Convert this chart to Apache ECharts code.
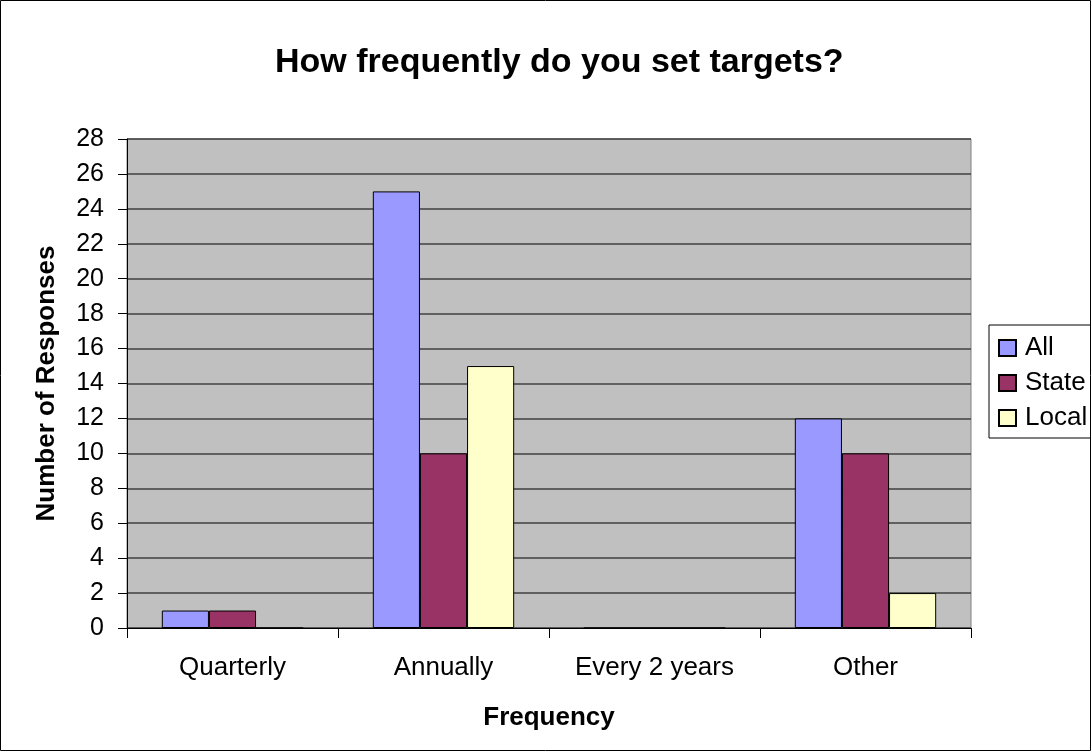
<!DOCTYPE html>
<html>
<head>
<meta charset="utf-8">
<script src="https://cdn.jsdelivr.net/npm/echarts@6/dist/echarts.min.js"></script>
<style>
  html, body { margin: 0; padding: 0; background: #fff; }
  #chart { width: 1091px; height: 751px; }
</style>
</head>
<body>
<div id="chart"></div>
<script>
const categories = ['Quarterly', 'Annually', 'Every 2 years', 'Other']
const allValues = [1, 25, 0, 12]
const stateValues = [1, 10, 0, 10]
const localValues = [0, 15, 0, 2]

const font = '"Liberation Sans", Arial, sans-serif'
const chart = echarts.init(document.getElementById('chart'))

const barStyle = (color) => ({
  color: color,
  borderColor: '#000',
  borderWidth: 1
})

const option = {
  animation: false,
  backgroundColor: '#fff',
  textStyle: { fontFamily: font },
  graphic: [{
    type: 'rect',
    shape: { x: 0.5, y: 0.5, width: 1090, height: 750 },
    style: { fill: 'none', stroke: '#000', lineWidth: 1 },
    silent: true,
    z: 100
  }],
  title: {
    text: 'How frequently do you set targets?',
    left: 270,
    top: 41,
    textStyle: { fontFamily: font, fontSize: 34, fontWeight: 'bold', color: '#000' }
  },
  legend: {
    orient: 'vertical',
    left: 989,
    top: 325,
    padding: [10, 40, 7, 9],
    itemGap: 9,
    itemWidth: 17,
    itemHeight: 16,
    icon: 'rect',
    borderColor: '#000',
    borderWidth: 1,
    textStyle: { fontFamily: font, fontSize: 26, color: '#000', padding: [0, 0, 0, 4] },
    data: ['All', 'State', 'Local']
  },
  grid: {
    left: 127,
    right: 120,
    top: 139,
    bottom: 123,
    show: true,
    backgroundColor: '#C0C0C0',
    borderColor: '#808080',
    borderWidth: 1
  },
  xAxis: {
    type: 'category',
    data: categories,
    name: 'Frequency',
    nameLocation: 'middle',
    nameGap: 77,
    nameTextStyle: { fontFamily: font, fontSize: 26, fontWeight: 'bold', color: '#000' },
    axisLine: { lineStyle: { color: '#000', width: 1 } },
    axisTick: { show: true, length: 10, lineStyle: { color: '#000' } },
    axisLabel: { fontFamily: font, fontSize: 26, color: '#000', margin: 27 },
    splitLine: { show: false }
  },
  yAxis: {
    type: 'value',
    min: 0,
    max: 28,
    interval: 2,
    name: 'Number of Responses',
    nameLocation: 'middle',
    nameGap: 67,
    nameTextStyle: { fontFamily: font, fontSize: 26, fontWeight: 'bold', color: '#000' },
    axisLine: { show: true, lineStyle: { color: '#000', width: 1 } },
    axisTick: { show: true, length: 9, lineStyle: { color: '#000' } },
    axisLabel: { fontFamily: font, fontSize: 25, color: '#000', margin: 23 },
    splitLine: { show: true, lineStyle: { color: '#404040', width: 1.5 } }
  },
  series: [
    {
      name: 'All',
      type: 'bar',
      data: allValues,
      barGap: '0%',
      barCategoryGap: '33%',
      itemStyle: barStyle('#9999FF')
    },
    {
      name: 'State',
      type: 'bar',
      data: stateValues,
      barGap: '0%',
      barCategoryGap: '33%',
      itemStyle: barStyle('#993366')
    },
    {
      name: 'Local',
      type: 'bar',
      data: localValues,
      barGap: '0%',
      barCategoryGap: '33%',
      itemStyle: barStyle('#FFFFCC')
    }
  ]
}

chart.setOption(option)
</script>
</body>
</html>
